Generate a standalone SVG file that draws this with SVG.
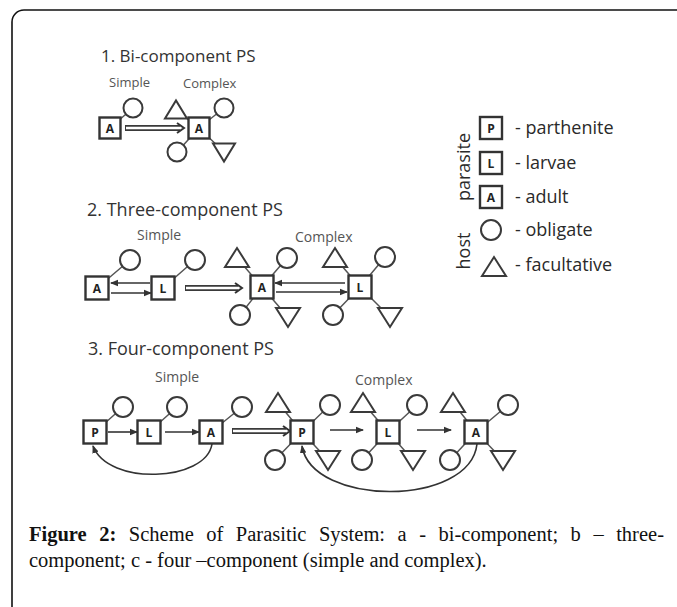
<svg xmlns="http://www.w3.org/2000/svg" xmlns:xlink="http://www.w3.org/1999/xlink" width="677" height="607" viewBox="0 0 677 607">
<style>
.sq{fill:#fff;stroke:#333;stroke-width:2.4}
.sh{fill:#fff;stroke:#3a3a3a;stroke-width:2}
.ln{stroke:#555;stroke-width:1.5;fill:none}
.ar{stroke:#333;stroke-width:1.6;fill:none}
.lt{font-family:"Open Sans",sans-serif;font-weight:bold;font-size:12px;fill:#222;text-anchor:middle}
.ti{font-family:"Open Sans",sans-serif;font-size:18px;fill:#333}
.lb{font-family:"Open Sans",sans-serif;font-size:14px;fill:#555}
.lg{font-family:"Open Sans",sans-serif;font-size:18px;fill:#2a2a2a}
.cap{font-family:"Liberation Serif",serif;font-size:20.5px;fill:#111}
.dbo{stroke:#3a3a3a;stroke-width:6;fill:none}
.dbi{stroke:#fff;stroke-width:2.4;fill:none}
.dbh{stroke:#333;stroke-width:2;fill:none}
</style>
<defs>
<marker id="ah" markerWidth="8" markerHeight="8" refX="7" refY="4" orient="auto" markerUnits="userSpaceOnUse"><path d="M0,0.8 L8,4 L0,7.2 Z" fill="#333"/></marker>
<path id="tu" d="M-12,9 L12,9 L0,-10 Z"/>
<path id="td" d="M-12,-9 L12,-9 L0,10 Z"/>
<path id="tus" d="M-11,8.5 L11,8.5 L0,-9.5 Z"/>
<path id="tds" d="M-11,-8.5 L11,-8.5 L0,9.5 Z"/>
</defs>
<rect width="677" height="607" fill="#fff"/>
<path d="M12,607 V22 A12,12 0 0 1 24,10 H677" fill="none" stroke="#111" stroke-width="1.6"/>

<text class="ti" x="101" y="62" style="font-size:17px">1. Bi-component PS</text>
<text class="lb" x="109" y="87" style="font-size:13px">Simple</text>
<text class="lb" x="183" y="88" style="font-size:13px">Complex</text>
<text class="ti" x="87" y="216">2. Three-component PS</text>
<text class="lb" x="137" y="240">Simple</text>
<text class="lb" x="295" y="242">Complex</text>
<text class="ti" x="88" y="355">3. Four-component PS</text>
<text class="lb" x="155" y="382">Simple</text>
<text class="lb" x="355" y="385">Complex</text>

<g id="connectors">
<path class="ln" d="M110,128 L133,108 M199,128 L176,110 M199,128 L224,108 M199,128 L177,152 M199,128 L224,152"/>
<path class="ln" d="M97,288 L130,260 M163,288 L195,260 M262,287 L237,258 M262,287 L287,258 M262,287 L240,315 M262,287 L288,317 M360,287 L335,258 M360,287 L385,257 M360,287 L333,315 M360,287 L390,317"/>
<path class="ln" d="M95,432 L123,407 M149,432 L177,407 M211,432 L242,407 M302,432 L278,403 M302,432 L330,405 M302,432 L275,460 M302,432 L328,460 M388,432 L363,403 M388,432 L417,405 M388,432 L362,460 M388,432 L413,460 M476,432 L453,403 M476,432 L508,405 M476,432 L450,460 M476,432 L503,460"/>
<path class="dbo" d="M125,128 H180"/><path class="dbi" d="M126,128 H181"/><path class="dbh" d="M177,123 L184,128 L177,133"/>
<path class="dbo" d="M185,288 H238"/><path class="dbi" d="M186,288 H239"/><path class="dbh" d="M235,283 L242,288 L235,293"/>
<path class="dbo" d="M232,431 H286"/><path class="dbi" d="M233,431 H287"/><path class="dbh" d="M283,426 L290,431 L283,436"/>
<path class="ar" d="M150,283 H111" marker-end="url(#ah)"/>
<path class="ar" d="M111,293 H151" marker-end="url(#ah)"/>
<path class="ar" d="M345,283 H275" marker-end="url(#ah)"/>
<path class="ar" d="M276,292 H347" marker-end="url(#ah)"/>
<path class="ar" d="M108,432 H137" marker-end="url(#ah)"/>
<path class="ar" d="M165,432 H199" marker-end="url(#ah)"/>
<path class="ar" d="M330,430 H363" marker-end="url(#ah)"/>
<path class="ar" d="M417,430 H451" marker-end="url(#ah)"/>
<path class="ar" d="M212,444 C206,482 108,486 93,446" marker-end="url(#ah)"/>
<path class="ar" d="M477,444 C470,507 312,507 302,446" marker-end="url(#ah)"/>
</g>

<g id="s1-simple-A">
<circle class="sh" cx="133" cy="108" r="9.5"/>
<rect class="sq" x="99.5" y="117.5" width="21" height="21"/><text class="lt" x="110" y="132.5">A</text>
</g>
<g id="s1-complex-A">
<use href="#tus" class="sh" x="176" y="110"/>
<circle class="sh" cx="224" cy="108" r="9.5"/>
<circle class="sh" cx="177" cy="152" r="9.5"/>
<use href="#tds" class="sh" x="224" y="152"/>
<rect class="sq" x="188.5" y="117.5" width="21" height="21"/><text class="lt" x="199" y="132.5">A</text>
</g>

<g id="s2-simple-A">
<circle class="sh" cx="130" cy="260" r="10"/>
<rect class="sq" x="85.5" y="276.5" width="23" height="23"/><text class="lt" x="97" y="292.5">A</text>
</g>
<g id="s2-simple-L">
<circle class="sh" cx="195" cy="260" r="10"/>
<rect class="sq" x="151.5" y="276.5" width="23" height="23"/><text class="lt" x="163" y="292.5">L</text>
</g>
<g id="s2-complex-A">
<use href="#tu" class="sh" x="237" y="258"/>
<circle class="sh" cx="287" cy="258" r="10"/>
<circle class="sh" cx="240" cy="315" r="10"/>
<use href="#td" class="sh" x="288" y="317"/>
<rect class="sq" x="250.5" y="275.5" width="23" height="23"/><text class="lt" x="262" y="291.5">A</text>
</g>
<g id="s2-complex-L">
<use href="#tu" class="sh" x="335" y="258"/>
<circle class="sh" cx="385" cy="257" r="10"/>
<circle class="sh" cx="333" cy="315" r="10"/>
<use href="#td" class="sh" x="390" y="317"/>
<rect class="sq" x="348.5" y="275.5" width="23" height="23"/><text class="lt" x="360" y="291.5">L</text>
</g>

<g id="s3-simple-P">
<circle class="sh" cx="123" cy="407" r="10"/>
<rect class="sq" x="83.5" y="420.5" width="23" height="23"/><text class="lt" x="95" y="436.5">P</text>
</g>
<g id="s3-simple-L">
<circle class="sh" cx="177" cy="407" r="10"/>
<rect class="sq" x="137.5" y="420.5" width="23" height="23"/><text class="lt" x="149" y="436.5">L</text>
</g>
<g id="s3-simple-A">
<circle class="sh" cx="242" cy="407" r="10"/>
<rect class="sq" x="199.5" y="420.5" width="23" height="23"/><text class="lt" x="211" y="436.5">A</text>
</g>
<g id="s3-complex-P">
<use href="#tu" class="sh" x="278" y="403"/>
<circle class="sh" cx="330" cy="405" r="10"/>
<circle class="sh" cx="275" cy="460" r="10"/>
<use href="#td" class="sh" x="328" y="460"/>
<rect class="sq" x="290.5" y="420.5" width="23" height="23"/><text class="lt" x="302" y="436.5">P</text>
</g>
<g id="s3-complex-L">
<use href="#tu" class="sh" x="363" y="403"/>
<circle class="sh" cx="417" cy="405" r="10"/>
<circle class="sh" cx="362" cy="460" r="10"/>
<use href="#td" class="sh" x="413" y="460"/>
<rect class="sq" x="376.5" y="420.5" width="23" height="23"/><text class="lt" x="388" y="436.5">L</text>
</g>
<g id="s3-complex-A">
<use href="#tu" class="sh" x="453" y="403"/>
<circle class="sh" cx="508" cy="405" r="10"/>
<circle class="sh" cx="450" cy="460" r="10"/>
<use href="#td" class="sh" x="503" y="460"/>
<rect class="sq" x="464.5" y="420.5" width="23" height="23"/><text class="lt" x="476" y="436.5">A</text>
</g>

<g id="legend">
<text class="lg" transform="translate(470,167) rotate(-90)" text-anchor="middle">parasite</text>
<text class="lg" transform="translate(470,251) rotate(-90)" text-anchor="middle">host</text>
<rect class="sq" x="480" y="117" width="22" height="22"/><text class="lt" x="491" y="132.5">P</text>
<rect class="sq" x="480" y="152" width="22" height="22"/><text class="lt" x="491" y="167.5">L</text>
<rect class="sq" x="480" y="186" width="22" height="22"/><text class="lt" x="491" y="201.5">A</text>
<circle class="sh" cx="491" cy="230" r="10"/>
<use href="#tu" class="sh" x="494" y="267"/>
<text class="lg" x="515" y="134">- parthenite</text>
<text class="lg" x="515" y="169">- larvae</text>
<text class="lg" x="515" y="203">- adult</text>
<text class="lg" x="515" y="236">- obligate</text>
<text class="lg" x="515" y="271">- facultative</text>
</g>

<g id="caption">
<text class="cap" x="29" y="541" word-spacing="7.4"><tspan font-weight="bold">Figure 2:</tspan> Scheme of Parasitic System: a - bi-component; b – three-</text>
<text class="cap" x="29" y="567">component; c - four –component (simple and complex).</text>
</g>
</svg>
